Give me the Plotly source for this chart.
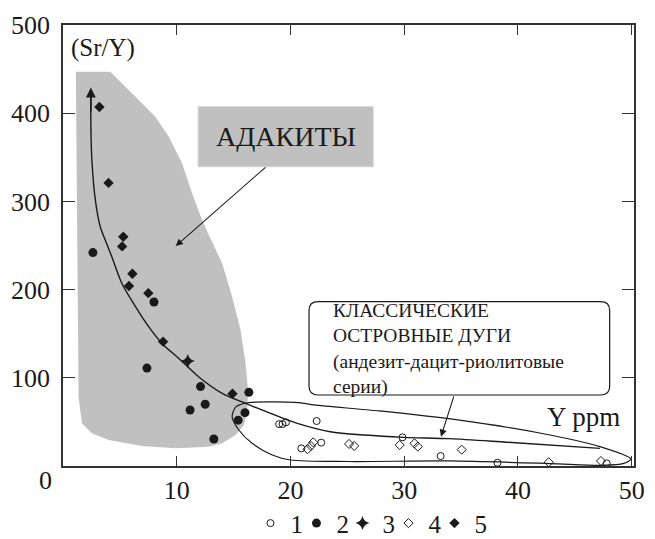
import plotly.graph_objects as go

# ---- data ----
s1_x = [19.0, 19.3, 19.6, 22.3, 20.95, 22.7, 29.85, 33.2, 38.2, 47.8]
s1_y = [47.5, 47.5, 49.5, 51, 20, 26.5, 32.5, 11.3, 3.7, 3.0]

s2_x = [2.63, 8.0, 7.38, 12.09, 16.34, 12.5, 11.17, 16.0, 15.4, 13.26]
s2_y = [242, 186, 111, 90, 83.5, 70, 63.5, 60.5, 52, 30.6]

s3_x = [10.97]
s3_y = [119]

s4_x = [21.5, 21.8, 22.0, 25.15, 25.6, 29.6, 30.9, 31.2, 35.05, 42.7, 47.3]
s4_y = [19, 22.7, 26.8, 25, 22.7, 23.8, 25.7, 21.9, 18.5, 4.2, 5.7]

s5_x = [3.2, 4.0, 5.3, 5.2, 6.1, 5.8, 7.5, 8.8, 14.9]
s5_y = [407, 321, 260, 249, 218, 204, 196, 141, 82]

legend_names = ["1", "2", "3", "4", "5"]

# adakite field outline
ad_x = [1.13, 4.16, 6.06, 8.12, 9.30, 10.47, 11.35, 12.23, 12.82, 13.99, 14.87, 15.61,
        16.05, 16.26, 16.19, 15.90, 15.17, 13.99, 12.82, 9.89, 6.94, 4.01, 2.54, 1.66,
        1.37, 1.22, 1.13]
ad_y = [447, 447, 422.6, 396, 373.4, 343.2, 309.2, 278.9, 261.9, 229.8, 192, 154.2,
        116.4, 86.2, 63.5, 46.5, 35.1, 25.7, 21.9, 20.1, 22.7, 29.5, 37.1, 48.4,
        78.6, 267.6, 447]

# island-arc field outline
ia_x = [14.87, 15.2, 16.3, 20.75, 22.07, 27.8, 34.7, 41.9, 47.2, 49.9, 49.3, 47.4,
        42.8, 33.96, 25.15, 20.0, 18.4, 16.63, 15.46, 14.87]
ia_y = [55.9, 67, 71.8, 71.8, 69.2, 62.4, 52.2, 37.4, 21.9, 8, 3, 0.8,
        2.8, 5.7, 5.1, 6.8, 12.5, 25.7, 40.8, 55.9]

# trend curve
tr_x = [2.45, 2.45, 2.54, 2.84, 3.28, 3.72, 4.3, 5.18, 6.36, 7.53, 8.7, 10.18, 11.94,
        14.0, 16.05, 18.99, 20.6, 23.5, 26.5, 30.0, 34.0, 39.0, 47.2]
tr_y = [420, 385, 347, 302, 271, 256, 237, 207, 181, 158, 139, 122, 101,
        82.4, 71, 55.9, 48.4, 38.9, 35.1, 32.5, 31, 27, 20]

x_ticks = [10, 20, 30, 40, 50]
y_ticks = [100, 200, 300, 400, 500]

FONT = "Liberation Serif, Times New Roman, DejaVu Serif, serif"
INK = "#1a1a1a"
GRAY = "#c0c0c0"

fig = go.Figure()

fig.add_trace(go.Scatter(x=ad_x, y=ad_y, mode="lines", fill="toself", fillcolor=GRAY,
                         line=dict(width=0, color=GRAY), showlegend=False, hoverinfo="skip"))
fig.add_trace(go.Scatter(x=ia_x, y=ia_y, mode="lines", line=dict(color=INK, width=1.2, shape="spline", smoothing=0.8),
                         showlegend=False, hoverinfo="skip"))
fig.add_trace(go.Scatter(x=tr_x, y=tr_y, mode="lines", line=dict(color=INK, width=1.4, shape="spline", smoothing=0.8),
                         showlegend=False, hoverinfo="skip"))

fig.add_trace(go.Scatter(x=s1_x, y=s1_y, mode="markers", name=legend_names[0],
                         marker=dict(symbol="circle-open", size=7, color=INK, line=dict(width=1))))
fig.add_trace(go.Scatter(x=s2_x, y=s2_y, mode="markers", name=legend_names[1],
                         marker=dict(symbol="circle", size=9, color=INK)))
fig.add_trace(go.Scatter(x=s3_x, y=s3_y, mode="markers", name=legend_names[2],
                         marker=dict(symbol="star-diamond", size=10, color=INK)))
fig.add_trace(go.Scatter(x=s4_x, y=s4_y, mode="markers", name=legend_names[3],
                         marker=dict(symbol="diamond-open", size=7, color=INK, line=dict(width=1))))
fig.add_trace(go.Scatter(x=s5_x, y=s5_y, mode="markers", name=legend_names[4],
                         marker=dict(symbol="diamond", size=8, color=INK)))
# empty spacer entry so the last legend label is not clipped
fig.add_trace(go.Scatter(x=[None], y=[None], mode="markers", name=" ",
                         marker=dict(size=1, color="rgba(0,0,0,0)"), hoverinfo="skip"))

# boxes
fig.add_shape(type="rect", x0=11.88, x1=27.27, y0=339.3, y1=407.4, xref="x", yref="y",
              fillcolor=GRAY, line=dict(color="#d2d2d2", width=1), layer="above")

bx0, bx1, by0, by1, rx, ry = 21.63, 48.06, 80.5, 186.3, 0.8, 10.0
path = (f"M {bx0+rx},{by1} L {bx1-rx},{by1} Q {bx1},{by1} {bx1},{by1-ry} "
        f"L {bx1},{by0+ry} Q {bx1},{by0} {bx1-rx},{by0} L {bx0+rx},{by0} "
        f"Q {bx0},{by0} {bx0},{by0+ry} L {bx0},{by1-ry} Q {bx0},{by1} {bx0+rx},{by1} Z")
fig.add_shape(type="path", path=path, xref="x", yref="y", fillcolor="white",
              line=dict(color=INK, width=1.2), layer="above")

ann = []
ann.append(dict(x=19.57, y=373.4, text="АДАКИТЫ", showarrow=False,
                font=dict(size=28, family=FONT, color=INK)))
arc_lines = ["КЛАССИЧЕСКИЕ", "ОСТРОВНЫЕ ДУГИ", "(андезит-дацит-риолитовые", "серии)"]
ann.append(dict(x=23.6, y=132.5, text="<br>".join(arc_lines), showarrow=False,
                xanchor="left", yanchor="middle", align="left",
                font=dict(size=19.5, family=FONT, color=INK)))
ann.append(dict(x=0.5, y=474, text="(Sr/Y)", showarrow=False, xanchor="left", yanchor="middle",
                font=dict(size=25, family=FONT, color=INK)))
ann.append(dict(x=42.4, y=56, text="Y ppm", showarrow=False, xanchor="left", yanchor="middle",
                font=dict(size=27, family=FONT, color=INK)))
ann.append(dict(xref="paper", yref="paper", x=-0.0315, y=-0.032, text="0", showarrow=False,
                xanchor="center", yanchor="middle", font=dict(size=26, family=FONT, color=INK)))
# arrows
ann.append(dict(x=9.91, y=249.4, ax=17.93, ay=340.1, axref="x", ayref="y", text="",
                showarrow=True, arrowhead=2, arrowsize=1.3, arrowwidth=1.1, arrowcolor=INK))
ann.append(dict(x=33.23, y=33.2, ax=34.4, ay=80.6, axref="x", ayref="y", text="",
                showarrow=True, arrowhead=2, arrowsize=1.3, arrowwidth=1.1, arrowcolor=INK))
ann.append(dict(x=2.45, y=429, ax=2.45, ay=400, axref="x", ayref="y", text="",
                showarrow=True, arrowhead=2, arrowsize=1.4, arrowwidth=1.4, arrowcolor=INK))

# the page adds an 8px body margin, so the figure is sized to fit the 655x539 window
fig.update_layout(
    width=647, height=531,
    margin=dict(l=55, r=21, t=17, b=73, autoexpand=False),
    paper_bgcolor="white", plot_bgcolor="white",
    font=dict(family=FONT, size=26, color=INK),
    annotations=ann,
    showlegend=True,
    legend=dict(orientation="h", x=0.57, y=-0.13, xanchor="center", yanchor="middle",
                font=dict(size=25, family=FONT, color=INK), itemwidth=30,
                entrywidth=1, entrywidthmode="pixels", tracegroupgap=0,
                bgcolor="rgba(0,0,0,0)"),
)
fig.update_xaxes(range=[0, 50.2], tickvals=x_ticks, ticktext=[str(v) for v in x_ticks],
                 ticks="inside", ticklen=10, tickwidth=1.2, tickcolor="#333",
                 showline=True, linecolor="#333", linewidth=1.5, mirror="ticks",
                 showgrid=False, zeroline=False, automargin=False,
                 tickfont=dict(size=26, family=FONT, color=INK))
fig.update_yaxes(range=[0, 500], tickvals=y_ticks, ticktext=[str(v) for v in y_ticks],
                 ticks="inside", ticklen=12, tickwidth=1.2, tickcolor="#333",
                 showline=True, linecolor="#333", linewidth=1.5, mirror="ticks",
                 showgrid=False, zeroline=False, automargin=False,
                 tickfont=dict(size=26, family=FONT, color=INK),
                 ticklabelstandoff=6)

fig.write_html("out.html")
